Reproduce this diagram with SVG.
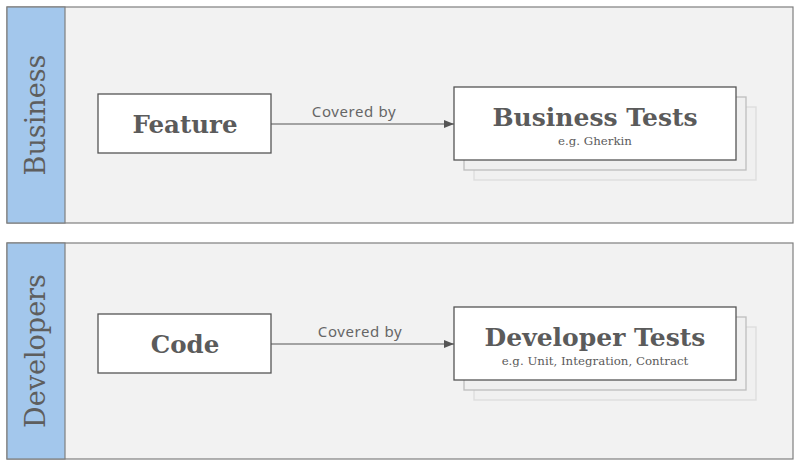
<svg xmlns="http://www.w3.org/2000/svg" width="800" height="467" viewBox="0 0 800 467">
<style>
.lane{fill:#f2f2f2;stroke:#7f7f7f;stroke-width:1.2}
.bar{fill:#a3c7ec;stroke:#7f7f7f;stroke-width:1.2}
.lanet{font-family:"DejaVu Serif","Liberation Serif",serif;font-size:27px;fill:#5e5e5e;text-anchor:middle}
.box{fill:#fff;stroke:#555;stroke-width:1.3}
.sh1{fill:#f0f0f0;stroke:#bdbdbd;stroke-width:1.3}
.sh2{fill:#f0f0f0;stroke:#dcdcdc;stroke-width:1.3}
.t{font-family:"DejaVu Serif","Liberation Serif",serif;font-weight:bold;fill:#5b5b5b;text-anchor:middle}
.s{font-family:"DejaVu Serif","Liberation Serif",serif;fill:#5b5b5b;text-anchor:middle;font-size:11.8px}
.lbl{font-family:"Noto Sans","Open Sans",sans-serif;font-size:15px;letter-spacing:0.6px;fill:#666;text-anchor:middle}
.con{stroke:#555;stroke-width:1.2;fill:none}
</style>
<defs>
<marker id="ah" markerWidth="10" markerHeight="8" refX="10" refY="4" orient="auto" markerUnits="userSpaceOnUse">
<path d="M0,0 L10,4 L0,8 z" fill="#555"/>
</marker>
</defs>
<g id="lane-business">
<rect class="lane" x="7" y="7" width="786" height="216"/>
<rect class="bar" x="7" y="7" width="58" height="216"/>
<text class="lanet" transform="translate(45,115) rotate(-90)">Business</text>
</g>
<g id="lane-developers">
<rect class="lane" x="7" y="243" width="786" height="216"/>
<rect class="bar" x="7" y="243" width="58" height="216"/>
<text class="lanet" transform="translate(45,351) rotate(-90)">Developers</text>
</g>
<g id="feature">
<rect class="box" x="98" y="94" width="173" height="59"/>
<text class="t" x="185" y="133" font-size="24.5">Feature</text>
</g>
<g id="business-tests">
<rect class="sh2" x="474" y="107" width="282" height="73"/>
<rect class="sh1" x="464" y="97" width="282" height="73"/>
<rect class="box" x="454" y="87" width="282" height="73"/>
<text class="t" x="595" y="126" font-size="25">Business Tests</text>
<text class="s" x="595" y="145">e.g. Gherkin</text>
</g>
<g id="code">
<rect class="box" x="98" y="314" width="173" height="59"/>
<text class="t" x="185" y="353" font-size="24.5">Code</text>
</g>
<g id="developer-tests">
<rect class="sh2" x="474" y="327" width="282" height="73"/>
<rect class="sh1" x="464" y="317" width="282" height="73"/>
<rect class="box" x="454" y="307" width="282" height="73"/>
<text class="t" x="595" y="346" font-size="25">Developer Tests</text>
<text class="s" x="595" y="365">e.g. Unit, Integration, Contract</text>
</g>
<g id="connectors">
<line class="con" x1="271" y1="124" x2="454" y2="124" marker-end="url(#ah)"/>
<text class="lbl" x="354" y="117">Covered by</text>
<line class="con" x1="271" y1="344" x2="454" y2="344" marker-end="url(#ah)"/>
<text class="lbl" x="360" y="337">Covered by</text>
</g>
</svg>
